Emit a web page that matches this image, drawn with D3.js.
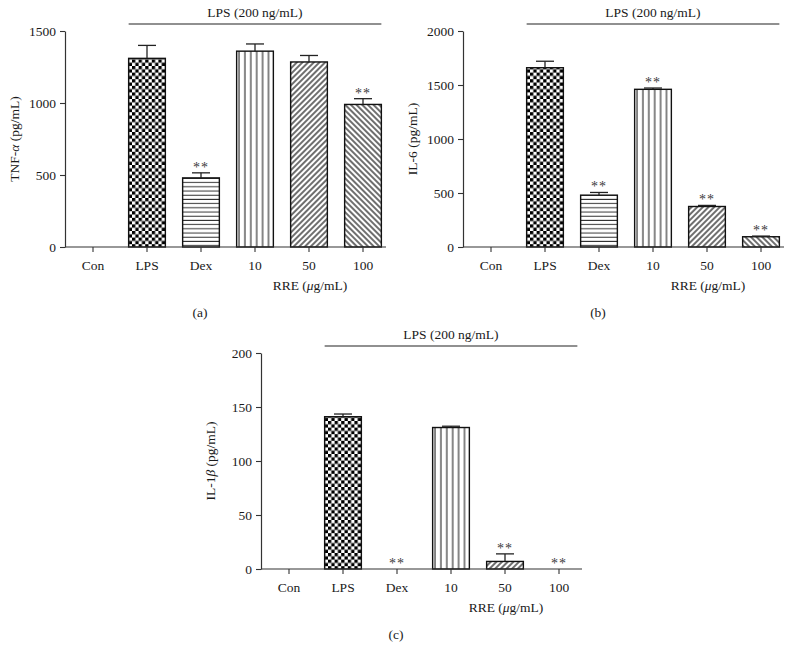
<!DOCTYPE html>
<html>
<head>
<meta charset="utf-8">
<script src="https://cdn.jsdelivr.net/npm/d3@7"></script>
<style>
  body { margin: 0; background: #fff; }
  svg text { font-family: "Liberation Serif", "Times New Roman", serif; fill: #1a1a1a; }
</style>
</head>
<body>
<div id="chart"></div>
<script>
var categories = ["Con", "LPS", "Dex", "10", "50", "100"];
var fills = ["none", "checker", "hline", "vline", "diagUp", "diagDown"];

// panel (a) TNF-alpha
var tnfMean = [0, 1310, 480, 1360, 1285, 990];
var tnfErr = [0, 90, 35, 50, 45, 40];
var tnfSig = [false, false, true, false, false, true];
var tnfTicks = [0, 500, 1000, 1500];

// panel (b) IL-6
var il6Mean = [0, 1660, 480, 1460, 375, 95];
var il6Err = [0, 60, 25, 12, 10, 6];
var il6Sig = [false, false, true, true, true, true];
var il6Ticks = [0, 500, 1000, 1500, 2000];

// panel (c) IL-1beta
var il1bMean = [0, 141, 0, 131, 7, 0];
var il1bErr = [0, 2.5, 0, 1.2, 7, 0];
var il1bSig = [false, false, true, false, true, true];
var il1bTicks = [0, 50, 100, 150, 200];

var width = 796, height = 659;
var svg = d3.select("#chart").append("svg")
    .attr("width", width)
    .attr("height", height);

// hatch patterns
var defs = svg.append("defs");
var p = defs.append("pattern").attr("id", "checker").attr("patternUnits", "userSpaceOnUse")
    .attr("width", 6.6).attr("height", 6.6);
p.append("rect").attr("width", 6.6).attr("height", 6.6).attr("fill", "#fff");
p.append("rect").attr("width", 3.3).attr("height", 3.3).attr("fill", "#000");
p.append("rect").attr("x", 3.3).attr("y", 3.3).attr("width", 3.3).attr("height", 3.3).attr("fill", "#000");

p = defs.append("pattern").attr("id", "hline").attr("patternUnits", "userSpaceOnUse")
    .attr("width", 8).attr("height", 4.2);
p.append("rect").attr("width", 8).attr("height", 4.2).attr("fill", "#fff");
p.append("line").attr("x1", 0).attr("x2", 8).attr("y1", 2).attr("y2", 2)
    .attr("stroke", "#333").attr("stroke-width", 1);

p = defs.append("pattern").attr("id", "vline").attr("patternUnits", "userSpaceOnUse")
    .attr("width", 5.9).attr("height", 8);
p.append("rect").attr("width", 5.9).attr("height", 8).attr("fill", "#fff");
p.append("line").attr("x1", 3).attr("x2", 3).attr("y1", 0).attr("y2", 8)
    .attr("stroke", "#222").attr("stroke-width", 1.1);

p = defs.append("pattern").attr("id", "diagUp").attr("patternUnits", "userSpaceOnUse")
    .attr("width", 4).attr("height", 4).attr("patternTransform", "rotate(45)");
p.append("rect").attr("width", 4).attr("height", 4).attr("fill", "#fff");
p.append("line").attr("x1", 2).attr("x2", 2).attr("y1", 0).attr("y2", 4)
    .attr("stroke", "#222").attr("stroke-width", 1.3);

p = defs.append("pattern").attr("id", "diagDown").attr("patternUnits", "userSpaceOnUse")
    .attr("width", 4).attr("height", 4).attr("patternTransform", "rotate(-45)");
p.append("rect").attr("width", 4).attr("height", 4).attr("fill", "#fff");
p.append("line").attr("x1", 2).attr("x2", 2).attr("y1", 0).attr("y2", 4)
    .attr("stroke", "#222").attr("stroke-width", 1.3);

var fontSize = "13.5px";

function panel(ox, oy, means, errs, sig, ticks, yLabel, letter) {
    var g = svg.append("g").attr("transform", "translate(" + ox + "," + oy + ")");

    var x = d3.scaleBand().domain(categories)
        .range([66, 390])
        .paddingInner(0.32)
        .paddingOuter(0.16);
    var y = d3.scaleLinear().domain([0, ticks[ticks.length - 1]]).range([247, 31]);

    var data = categories.map(function (c, i) {
        return { cat: c, mean: means[i], err: errs[i], sig: sig[i], fill: fills[i] };
    });

    // bars
    g.selectAll(".bar")
        .data(data.filter(function (d) { return d.mean > 0; }))
        .enter().append("rect")
        .attr("class", "bar")
        .attr("x", function (d) { return x(d.cat); })
        .attr("width", x.bandwidth())
        .attr("y", function (d) { return y(d.mean); })
        .attr("height", function (d) { return y(0) - y(d.mean); })
        .attr("fill", function (d) { return "url(#" + d.fill + ")"; })
        .attr("stroke", "#111")
        .attr("stroke-width", 1.4);

    // error bars
    var eb = g.selectAll(".err")
        .data(data.filter(function (d) { return d.err > 0; }))
        .enter().append("g").attr("class", "err");
    eb.append("line")
        .attr("x1", function (d) { return x(d.cat) + x.bandwidth() / 2; })
        .attr("x2", function (d) { return x(d.cat) + x.bandwidth() / 2; })
        .attr("y1", function (d) { return y(d.mean); })
        .attr("y2", function (d) { return y(d.mean + d.err); })
        .attr("stroke", "#222").attr("stroke-width", 1.3);
    eb.append("line")
        .attr("x1", function (d) { return x(d.cat) + x.bandwidth() / 2 - 9; })
        .attr("x2", function (d) { return x(d.cat) + x.bandwidth() / 2 + 9; })
        .attr("y1", function (d) { return y(d.mean + d.err); })
        .attr("y2", function (d) { return y(d.mean + d.err); })
        .attr("stroke", "#222").attr("stroke-width", 1.3);

    // significance stars
    g.selectAll(".sig")
        .data(data.filter(function (d) { return d.sig; }))
        .enter().append("text")
        .attr("class", "sig")
        .attr("x", function (d) { return x(d.cat) + x.bandwidth() / 2; })
        .attr("y", function (d) { return y(d.mean + d.err) - 1; })
        .attr("text-anchor", "middle")
        .attr("font-size", "14px")
        .attr("letter-spacing", "1px")
        .style("fill", "#3a3a3a")
        .text("**");

    // axes
    var yAxis = g.append("g").attr("transform", "translate(65,0)")
        .call(d3.axisLeft(y).tickValues(ticks).tickFormat(d3.format("d"))
            .tickSize(5).tickPadding(4).tickSizeOuter(0));
    var xAxis = g.append("g").attr("transform", "translate(0,247)")
        .call(d3.axisBottom(x).tickSize(5).tickPadding(8).tickSizeOuter(0));
    xAxis.select(".domain").attr("d", "M65,0H386");
    [yAxis, xAxis].forEach(function (a) {
        a.selectAll("text").attr("font-size", fontSize)
            .style("font-family", "'Liberation Serif', serif").style("fill", "#1a1a1a");
        a.selectAll("line").attr("stroke", "#333").attr("stroke-width", 1.1);
        a.select(".domain").attr("stroke", "#333").attr("stroke-width", 1.2);
    });

    // LPS bracket line
    g.append("line")
        .attr("x1", x("LPS")).attr("x2", x("100") + x.bandwidth())
        .attr("y1", 24).attr("y2", 24)
        .attr("stroke", "#222").attr("stroke-width", 1.2);
    g.append("text")
        .attr("x", (x("LPS") + x("100") + x.bandwidth()) / 2)
        .attr("y", 17)
        .attr("text-anchor", "middle")
        .attr("font-size", fontSize)
        .text("LPS (200 ng/mL)");

    // y label
    var yl = g.append("text")
        .attr("transform", "translate(19," + ((y.range()[0] + y.range()[1]) / 2) + ") rotate(-90)")
        .attr("text-anchor", "middle")
        .attr("font-size", fontSize);
    yl.append("tspan").text(yLabel[0]);
    yl.append("tspan").attr("font-style", "italic").text(yLabel[1]);
    yl.append("tspan").text(yLabel[2]);

    // RRE label
    var rre = g.append("text")
        .attr("x", 310).attr("y", 290)
        .attr("text-anchor", "middle")
        .attr("font-size", fontSize);
    rre.append("tspan").text("RRE (");
    rre.append("tspan").attr("font-style", "italic").text("\u03bc");
    rre.append("tspan").text("g/mL)");

    g.append("text")
        .attr("x", 200).attr("y", 317)
        .attr("text-anchor", "middle")
        .attr("font-size", fontSize)
        .text("(" + letter + ")");
}

panel(0, 0, tnfMean, tnfErr, tnfSig, tnfTicks, ["TNF-", "\u03b1", " (pg/mL)"], "a");
panel(398, 0, il6Mean, il6Err, il6Sig, il6Ticks, ["IL-6", "", " (pg/mL)"], "b");
panel(196, 322, il1bMean, il1bErr, il1bSig, il1bTicks, ["IL-1", "\u03b2", " (pg/mL)"], "c");
</script>
</body>
</html>
